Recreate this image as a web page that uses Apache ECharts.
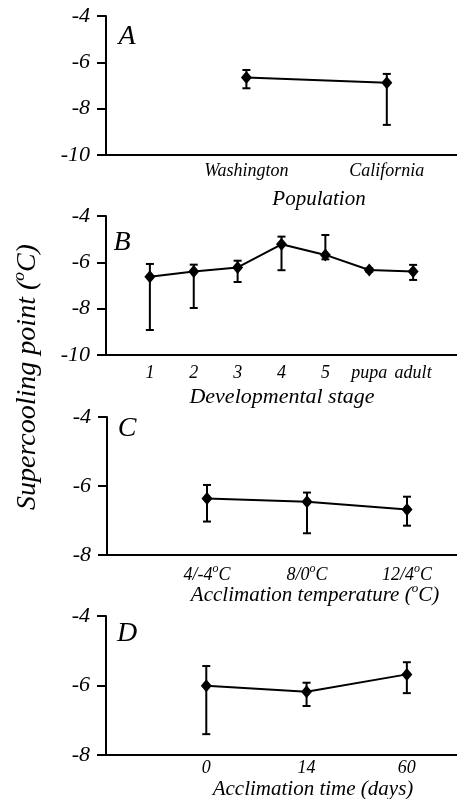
<!DOCTYPE html>
<html>
<head>
<meta charset="utf-8">
<script src="https://cdn.jsdelivr.net/npm/echarts@6/dist/echarts.min.js"></script>
<style>
  html, body { margin: 0; padding: 0; background: #fff; }
  #chart { width: 457px; height: 799px; }
</style>
</head>
<body>
<div id="chart"></div>
<script>
  // A: population
  const popCats = ['Washington', 'California'];
  const popMean = [-6.65, -6.88];
  const popUpper = [-6.33, -6.50];
  const popLower = [-7.12, -8.70];

  // B: developmental stage
  const stageCats = ['1', '2', '3', '4', '5', 'pupa', 'adult'];
  const stageMean = [-6.62, -6.40, -6.22, -5.22, -5.68, -6.33, -6.40];
  const stageUpper = [-6.07, -6.10, -5.93, -4.89, -4.82, -6.26, -6.11];
  const stageLower = [-8.92, -7.97, -6.85, -6.34, -5.87, -6.40, -6.76];

  // C: acclimation temperature
  const tempCats = ['4/-4oC', '8/0oC', '12/4oC'];
  const tempMean = [-6.36, -6.46, -6.68];
  const tempUpper = [-5.97, -6.19, -6.31];
  const tempLower = [-7.03, -7.37, -7.15];

  // D: acclimation time
  const timeCats = ['0', '14', '60'];
  const timeMean = [-6.01, -6.18, -5.68];
  const timeUpper = [-5.44, -5.92, -5.33];
  const timeLower = [-7.40, -6.59, -6.22];

  const FONT = 'Liberation Serif';

  const panels = [
    { cats: popCats, mean: popMean, up: popUpper, lo: popLower, yMin: -10,
      grid: { left: 106, top: 16, width: 351, height: 139 }, xMax: 2.5, labelSize: 18, labelMargin: 7 },
    { cats: stageCats, mean: stageMean, up: stageUpper, lo: stageLower, yMin: -10,
      grid: { left: 106, top: 216, width: 351, height: 139 }, xMax: 8, labelSize: 18, labelMargin: 9 },
    { cats: tempCats, mean: tempMean, up: tempUpper, lo: tempLower, yMin: -8,
      grid: { left: 107, top: 417, width: 350, height: 138 }, xMax: 3.5, labelSize: 18, labelMargin: 8 },
    { cats: timeCats, mean: timeMean, up: timeUpper, lo: timeLower, yMin: -8,
      grid: { left: 106, top: 616, width: 351, height: 139 }, xMax: 3.5, labelSize: 18, labelMargin: 4 }
  ];

  function renderErr(params, api) {
    const x = api.value(0);
    const lo = api.coord([x, api.value(1)]);
    const hi = api.coord([x, api.value(2)]);
    const w = 4;
    const st = { stroke: '#000', lineWidth: 2 };
    return {
      type: 'group',
      children: [
        { type: 'line', shape: { x1: lo[0], y1: lo[1], x2: hi[0], y2: hi[1] }, style: st },
        { type: 'line', shape: { x1: lo[0] - w, y1: lo[1], x2: lo[0] + w, y2: lo[1] }, style: st },
        { type: 'line', shape: { x1: hi[0] - w, y1: hi[1], x2: hi[0] + w, y2: hi[1] }, style: st }
      ]
    };
  }

  const supStyle = {
    fontSize: 12, fontStyle: 'italic', fontFamily: FONT, color: '#000', padding: [0, 0, 12, 0]
  };

  const grids = [], xAxes = [], yAxes = [], series = [];
  panels.forEach(function (p, i) {
    grids.push(Object.assign({ containLabel: false, outerBoundsMode: 'none' }, p.grid));
    xAxes.push({
      type: 'value', gridIndex: i, min: 0, max: p.xMax, interval: 1,
      splitLine: { show: false },
      axisTick: { show: false },
      axisLine: { lineStyle: { color: '#000', width: 2 } },
      axisLabel: {
        margin: p.labelMargin,
        color: '#000', fontFamily: FONT, fontStyle: 'italic', fontSize: p.labelSize,
        formatter: function (v) {
          const c = p.cats[v - 1];
          return c === undefined ? '' : c.replace('oC', '{s|o}C');
        },
        rich: { s: supStyle }
      }
    });
    yAxes.push({
      type: 'value', gridIndex: i, min: p.yMin, max: -4, interval: 2,
      splitLine: { show: false },
      axisLine: { show: true, lineStyle: { color: '#000', width: 2 } },
      axisTick: { show: true, length: 9, lineStyle: { color: '#000', width: 2 } },
      axisLabel: { margin: 16, color: '#000', fontFamily: FONT, fontStyle: 'italic', fontSize: 22 }
    });
    series.push({
      type: 'custom', xAxisIndex: i, yAxisIndex: i, z: 2,
      renderItem: renderErr,
      data: p.cats.map(function (c, k) { return [k + 1, p.lo[k], p.up[k]]; })
    });
    series.push({
      type: 'line', xAxisIndex: i, yAxisIndex: i, z: 3,
      symbol: 'diamond', symbolSize: [11, 13],
      itemStyle: { color: '#000' },
      lineStyle: { color: '#000', width: 2 },
      data: p.cats.map(function (c, k) { return [k + 1, p.mean[k]]; })
    });
  });

  function txt(x, y, text, size, extra) {
    return Object.assign({
      type: 'text', x: x, y: y,
      style: {
        text: text, fill: '#000', fontFamily: FONT, fontStyle: 'italic', fontSize: size,
        align: 'center', verticalAlign: 'middle',
        rich: { s: Object.assign({}, supStyle, { fontSize: size * 0.62, padding: [0, 0, size * 0.6, 0] }) }
      }
    }, extra || {});
  }

  const chart = echarts.init(document.getElementById('chart'));
  chart.setOption({
    animation: false,
    grid: grids,
    xAxis: xAxes,
    yAxis: yAxes,
    series: series,
    graphic: [
      txt(127, 37, 'A', 28),
      txt(122, 243, 'B', 28),
      txt(127, 429, 'C', 28),
      txt(127, 634, 'D', 28),
      txt(319, 199, 'Population', 21),
      txt(282, 397, 'Developmental stage', 22),
      txt(315, 595, 'Acclimation temperature ({s|o}C)', 21),
      txt(313, 789, 'Acclimation time (days)', 21),
      txt(28, 377, 'Supercooling point ({s|o}C)', 28, { rotation: Math.PI / 2 })
    ]
  });

  window.addEventListener('resize', function () {
    chart.resize();
  });
</script>
</body>
</html>
